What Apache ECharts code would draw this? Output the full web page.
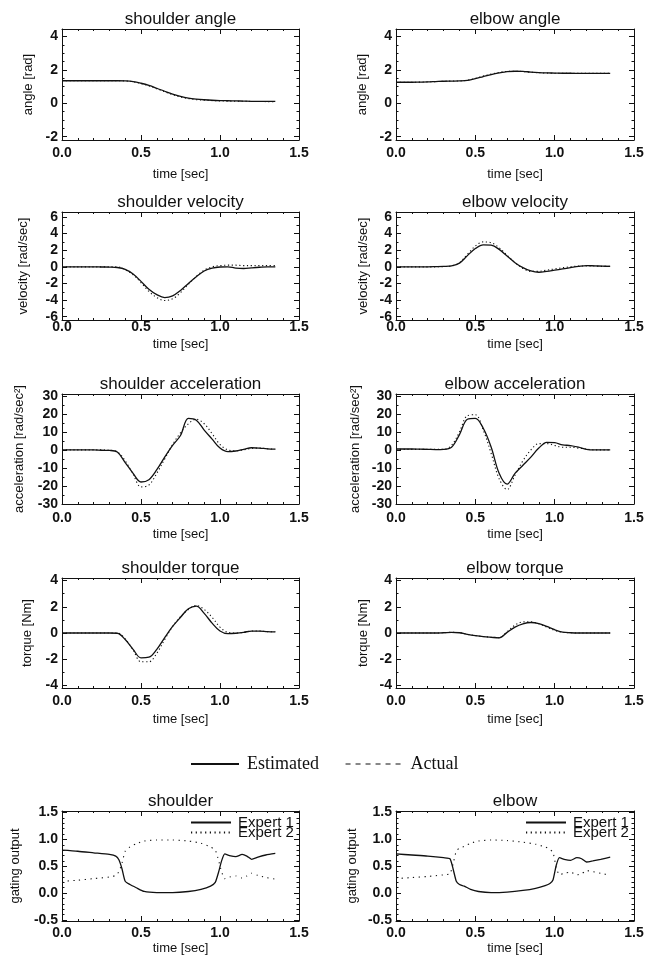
<!DOCTYPE html>
<html><head><meta charset="utf-8">
<script src="https://cdn.jsdelivr.net/npm/echarts@6/dist/echarts.min.js"></script>
<style>html,body{margin:0;padding:0;background:#fff}#c{width:646px;height:958px}</style>
</head><body><div id="c"></div>
<script>
// ---- data ----
const time = [0.00,0.05,0.10,0.15,0.20,0.25,0.30,0.35,0.40,0.45,0.50,0.55,0.60,0.65,0.70,0.75,0.80,0.85,0.90,0.95,1.00,1.05,1.10,1.15,1.20,1.25,1.30,1.35];
const shoulderAngleEst = [1.35,1.35,1.35,1.35,1.35,1.35,1.35,1.35,1.34,1.30,1.20,1.07,0.90,0.72,0.55,0.41,0.31,0.25,0.21,0.18,0.16,0.15,0.14,0.13,0.12,0.12,0.11,0.11];
const shoulderAngleAct = [1.35,1.35,1.35,1.35,1.35,1.35,1.35,1.35,1.34,1.29,1.18,1.04,0.87,0.69,0.52,0.38,0.28,0.22,0.19,0.16,0.14,0.13,0.12,0.12,0.11,0.11,0.10,0.10];
const elbowAngleEst = [1.26,1.26,1.26,1.27,1.28,1.30,1.32,1.33,1.34,1.37,1.47,1.60,1.72,1.82,1.90,1.92,1.91,1.87,1.84,1.82,1.81,1.80,1.80,1.79,1.79,1.79,1.79,1.79];
const elbowAngleAct = [1.26,1.26,1.26,1.27,1.28,1.30,1.32,1.33,1.34,1.38,1.49,1.63,1.75,1.85,1.91,1.92,1.90,1.86,1.83,1.81,1.80,1.80,1.79,1.79,1.79,1.79,1.79,1.79];
const shoulderVelEst = [0,0,0,0,0,-0.02,-0.03,-0.08,-0.30,-0.85,-1.75,-2.70,-3.35,-3.70,-3.50,-2.85,-2.00,-1.20,-0.50,-0.15,-0.02,0,-0.15,-0.20,-0.12,-0.05,0,0];
const shoulderVelAct = [0,0,0,0,0,0,0,0,-0.35,-0.95,-1.90,-2.95,-3.70,-4.05,-3.85,-3.10,-2.10,-1.15,-0.40,0,0.15,0.20,0.20,0.15,0.15,0.15,0.15,0.15];
const elbowVelEst = [0,0,0,0,0,0.02,0.05,0.12,0.45,1.35,2.20,2.65,2.60,2.10,1.30,0.50,-0.10,-0.50,-0.65,-0.55,-0.40,-0.25,-0.10,0.05,0.15,0.12,0.08,0.05];
const elbowVelAct = [0,0,0,0,0,0,0.03,0.10,0.50,1.50,2.50,3.00,2.90,2.30,1.40,0.50,-0.20,-0.55,-0.55,-0.40,-0.25,-0.10,0,0.10,0.10,0.10,0.05,0.05];
const shoulderAccEst = [0,0,0,0,0,-0.2,-0.3,-1.2,-7,-13,-17.8,-16.5,-11,-4,2.5,8,17.5,16.5,11,6,1,-1,-0.6,0.3,1.2,1,0.6,0.4];
const shoulderAccAct = [0,0,0,0,0,0,-0.2,-1,-6,-13.5,-20.5,-19.5,-13,-5,3,9.5,14.5,17,14.5,9,3,0,-0.5,0,0.8,1,0.6,0.4];
const elbowAccEst = [0.5,0.5,0.5,0.4,0.3,0.2,0.3,1.5,8.5,17,17.5,12,1.5,-13,-19,-13,-8.5,-4,1,4.2,4,2.8,2.4,1.5,0.3,0,0,0];
const elbowAccAct = [0.3,0.3,0.3,0.3,0.3,0.3,0.3,2.5,10,19,19.5,11,-2,-16,-22,-14,-6,0,3.5,3.5,2.5,1.5,1.5,1,0.5,0,0,0];
const shoulderTorqueEst = [0,0,0,0,0,0,0,-0.02,-0.5,-1.25,-1.9,-1.85,-1.25,-0.35,0.5,1.2,1.85,2.05,1.5,0.75,0.15,-0.05,-0.02,0.05,0.15,0.15,0.1,0.08];
const shoulderTorqueAct = [0,0,0,0,0,0,0,0,-0.45,-1.3,-2.2,-2.2,-1.55,-0.5,0.5,1.25,1.8,2.1,1.8,1.2,0.45,0.05,0,0.05,0.15,0.15,0.1,0.1];
const elbowTorqueEst = [0,0,0,0,0,0,0.02,0.05,0.02,-0.1,-0.2,-0.28,-0.33,-0.37,0.05,0.45,0.7,0.8,0.72,0.5,0.25,0.07,0.02,0,0,0,0,0];
const elbowTorqueAct = [0,0,0,0,0,0,0.02,0.05,0.02,-0.1,-0.2,-0.27,-0.32,-0.35,0.1,0.6,0.85,0.85,0.7,0.45,0.2,0.05,0.02,0,0,0,0,0];

const tGate = [0,0.1,0.2,0.3,0.34,0.36,0.38,0.40,0.43,0.47,0.52,0.6,0.7,0.8,0.88,0.94,0.97,0.99,1.01,1.03,1.06,1.1,1.14,1.17,1.2,1.24,1.29,1.35];
const shoulderExpert1 = [0.80,0.78,0.75,0.72,0.69,0.62,0.45,0.22,0.16,0.10,0.03,0.01,0.01,0.03,0.07,0.13,0.20,0.38,0.60,0.73,0.70,0.68,0.72,0.69,0.63,0.67,0.71,0.74];
const shoulderExpert2 = [0.22,0.24,0.27,0.30,0.33,0.40,0.56,0.78,0.86,0.92,0.97,0.99,0.99,0.97,0.93,0.86,0.80,0.62,0.40,0.27,0.30,0.32,0.28,0.32,0.37,0.33,0.29,0.26];
const elbowExpert1 = [0.73,0.71,0.69,0.66,0.64,0.45,0.22,0.16,0.13,0.07,0.03,0.01,0.02,0.05,0.09,0.14,0.18,0.25,0.52,0.66,0.63,0.61,0.66,0.64,0.58,0.60,0.63,0.67];
const elbowExpert2 = [0.27,0.29,0.31,0.34,0.36,0.55,0.78,0.84,0.87,0.93,0.97,0.99,0.98,0.95,0.91,0.86,0.82,0.75,0.48,0.34,0.37,0.39,0.34,0.36,0.42,0.40,0.37,0.33];

const xTicks = [0, 0.5, 1.0, 1.5];
const angleTicks = [-2, 0, 2, 4];
const velTicks = [-6, -4, -2, 0, 2, 4, 6];
const accTicks = [-30, -20, -10, 0, 10, 20, 30];
const torqueTicks = [-4, -2, 0, 2, 4];
const gateTicks = [-0.5, 0.0, 0.5, 1.0, 1.5];

// ---- layout ----
const colLeft = [62, 396], colWidth = [237, 238];
const rowTop = [29, 212, 394, 578, 811], rowH = [111, 108, 110, 110, 110];
const labelMargin = [6, 0, 7, 6, 5];
const xNameGap = [28, 18, 24, 25, 21];
const nameGaps = [[27, 32, 36, 28, 40], [27, 26, 34, 26, 37]];
const INK = '#111';
const SANS = '"Liberation Sans", Arial, sans-serif';
const SERIF = '"Liberation Serif", "DejaVu Serif", serif';

const panels = [
  {title:'shoulder angle', yName:'angle [rad]', min:-2.2, max:4.45, ticks:angleTicks, minor:0.5, dec:0, x:time, a:shoulderAngleEst, b:shoulderAngleAct, col:0, row:0},
  {title:'elbow angle', yName:'angle [rad]', min:-2.2, max:4.45, ticks:angleTicks, minor:0.5, dec:0, x:time, a:elbowAngleEst, b:elbowAngleAct, col:1, row:0},
  {title:'shoulder velocity', yName:'velocity [rad/sec]', min:-6.4, max:6.6, ticks:velTicks, minor:1, dec:0, x:time, a:shoulderVelEst, b:shoulderVelAct, col:0, row:1},
  {title:'elbow velocity', yName:'velocity [rad/sec]', min:-6.4, max:6.6, ticks:velTicks, minor:1, dec:0, x:time, a:elbowVelEst, b:elbowVelAct, col:1, row:1},
  {title:'shoulder acceleration', yName:'acceleration [rad/sec\u00b2]', min:-30, max:31, ticks:accTicks, minor:5, dec:0, x:time, a:shoulderAccEst, b:shoulderAccAct, col:0, row:2},
  {title:'elbow acceleration', yName:'acceleration [rad/sec\u00b2]', min:-30, max:31, ticks:accTicks, minor:5, dec:0, x:time, a:elbowAccEst, b:elbowAccAct, col:1, row:2},
  {title:'shoulder torque', yName:'torque [Nm]', min:-4.2, max:4.2, ticks:torqueTicks, minor:1, dec:0, x:time, a:shoulderTorqueEst, b:shoulderTorqueAct, col:0, row:3},
  {title:'elbow torque', yName:'torque [Nm]', min:-4.2, max:4.2, ticks:torqueTicks, minor:1, dec:0, x:time, a:elbowTorqueEst, b:elbowTorqueAct, col:1, row:3},
  {title:'shoulder', yName:'gating output', min:-0.52, max:1.53, ticks:gateTicks, minor:0.1, dec:1, x:tGate, a:shoulderExpert1, b:shoulderExpert2, col:0, row:4, gate:true},
  {title:'elbow', yName:'gating output', min:-0.52, max:1.53, ticks:gateTicks, minor:0.1, dec:1, x:tGate, a:elbowExpert1, b:elbowExpert2, col:1, row:4, gate:true}
];

function minorPositions(p) {
  const out = [];
  const n0 = Math.ceil(p.min / p.minor - 1e-9), n1 = Math.floor(p.max / p.minor + 1e-9);
  for (let n = n0; n <= n1; n++) {
    const v = +(n * p.minor).toFixed(4);
    if (!p.ticks.some(t => Math.abs(t - v) < 1e-6)) out.push(v);
  }
  return out;
}

const grid = [], xAxis = [], yAxis = [], series = [], graphic = [];
const lblStyle = {color: INK, fontFamily: SANS, fontSize: 14, fontWeight: 'bold'};
panels.forEach((p, i) => {
  const left = colLeft[p.col], top = rowTop[p.row], w = colWidth[p.col], h = rowH[p.row];
  grid.push({left: left, top: top, width: w, height: h, outerBoundsMode: 'none'});
  const line = {show: true, onZero: false, lineStyle: {color: INK, width: 1}};
  const noLine = {show: false, onZero: false};
  xAxis.push({type: 'value', gridIndex: i, position: 'bottom', min: 0, max: 1.5, interval: 0.5,
    axisLine: line, splitLine: {show: false},
    axisTick: {inside: true, length: 5, lineStyle: {color: INK}},
    minorTick: {show: true, splitNumber: 5, length: 2, lineStyle: {color: INK}},
    axisLabel: {...lblStyle, margin: labelMargin[p.row], formatter: v => v.toFixed(1)},
    name: 'time [sec]', nameLocation: 'middle', nameGap: xNameGap[p.row],
    nameTextStyle: {color: INK, fontFamily: SANS, fontSize: 13}});
  xAxis.push({type: 'value', gridIndex: i, position: 'top', min: 0, max: 1.5, interval: 0.5,
    axisLine: line, splitLine: {show: false}, axisLabel: {show: false},
    axisTick: {inside: true, length: 5, lineStyle: {color: INK}},
    minorTick: {show: true, splitNumber: 5, length: 2, lineStyle: {color: INK}}});
  const minors = minorPositions(p);
  yAxis.push({type: 'value', gridIndex: i, position: 'left', min: p.min, max: p.max,
    axisLine: line, splitLine: {show: false},
    axisTick: {inside: true, length: 5, customValues: p.ticks, lineStyle: {color: INK}},
    axisLabel: {...lblStyle, margin: 4, customValues: p.ticks, formatter: v => v.toFixed(p.dec)},
    name: p.yName, nameLocation: 'middle', nameGap: nameGaps[p.col][p.row],
    nameTextStyle: {color: INK, fontFamily: SANS, fontSize: 13}});
  yAxis.push({type: 'value', gridIndex: i, position: 'right', min: p.min, max: p.max,
    axisLine: line, splitLine: {show: false}, axisLabel: {show: false},
    axisTick: {inside: true, length: 5, customValues: p.ticks, lineStyle: {color: INK}}});
  yAxis.push({type: 'value', gridIndex: i, position: 'left', offset: 0, min: p.min, max: p.max,
    axisLine: noLine, splitLine: {show: false}, axisLabel: {show: false},
    axisTick: {inside: true, length: 2.5, customValues: minors, lineStyle: {color: INK}}});
  yAxis.push({type: 'value', gridIndex: i, position: 'right', offset: 0, min: p.min, max: p.max,
    axisLine: noLine, splitLine: {show: false}, axisLabel: {show: false},
    axisTick: {inside: true, length: 2.5, customValues: minors, lineStyle: {color: INK}}});
  const xi = 2 * i, yi = 4 * i;
  const nA = p.gate ? 'Expert 1' : 'Estimated';
  const nB = p.gate ? 'Expert 2' : 'Actual';
  series.push({type: 'line', name: nB, xAxisIndex: xi, yAxisIndex: yi, symbol: 'none',
    smooth: p.gate ? 0.2 : 0.35, itemStyle: {color: INK},
    lineStyle: {color: INK, width: 1.1, type: p.gate ? [1.2, 4.5] : [1.2, 2.6]},
    data: p.x.map((t, k) => [t, p.b[k]])});
  series.push({type: 'line', name: nA, xAxisIndex: xi, yAxisIndex: yi, symbol: 'none',
    smooth: p.gate ? 0.2 : 0.35, itemStyle: {color: INK},
    lineStyle: {color: INK, width: 1.3, type: 'solid'},
    data: p.x.map((t, k) => [t, p.a[k]])});
  graphic.push({type: 'text', x: left + w / 2, y: top - 10,
    style: {text: p.title, align: 'center', verticalAlign: 'middle', fontSize: 17, fontFamily: SANS, fill: INK}});
});

const hiddenSym = {color: 'rgba(0,0,0,0)', borderWidth: 0, opacity: 0};
const legend = [
  {left: 190, top: 755, padding: 0, itemWidth: 48, itemHeight: 10, data: ['Estimated'], selectedMode: false,
   itemStyle: hiddenSym,
   textStyle: {fontFamily: SERIF, fontSize: 18, color: INK, padding: [0, 0, 0, 3]}},
  {left: 345, top: 755, padding: 0, itemWidth: 55, itemHeight: 10, selectedMode: false, itemStyle: hiddenSym,
   data: [{name: 'Actual', lineStyle: {type: [5, 5], width: 1.1}}],
   textStyle: {fontFamily: SERIF, fontSize: 18, color: INK, padding: [0, 0, 0, 5]}},
  {left: 190, top: 815, padding: 0, orient: 'vertical', itemWidth: 40, itemHeight: 8, itemGap: -5, selectedMode: false,
   itemStyle: hiddenSym,
   data: ['Expert 1', {name: 'Expert 2', lineStyle: {type: [1.2, 3.5]}}],
   textStyle: {fontFamily: SANS, fontSize: 15, color: INK, padding: [0, 0, 0, 2]}},
  {left: 525, top: 815, padding: 0, orient: 'vertical', itemWidth: 40, itemHeight: 8, itemGap: -5, selectedMode: false,
   itemStyle: hiddenSym,
   data: ['Expert 1', {name: 'Expert 2', lineStyle: {type: [1.2, 3.5]}}],
   textStyle: {fontFamily: SANS, fontSize: 15, color: INK, padding: [0, 0, 0, 2]}}
];

const chart = echarts.init(document.getElementById('c'), null, {renderer: 'canvas'});
chart.setOption({backgroundColor: '#fff', animation: false, grid, xAxis, yAxis, series, legend, graphic});
</script></body></html>
